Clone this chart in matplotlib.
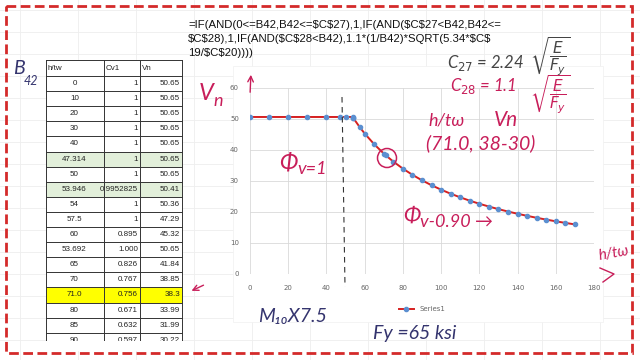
import matplotlib
matplotlib.use('Agg')
import matplotlib.pyplot as plt
from matplotlib.patches import Rectangle, Circle

# table data
tbl_h = ['0', '10', '20', '30', '40', '47.314', '50', '53.946', '54', '57.5', '60',
         '53.692', '65', '70', '71.0', '80', '85', '90']
tbl_cv = ['1', '1', '1', '1', '1', '1', '1', '0.9952825', '1', '1', '0.895',
          '1.000', '0.826', '0.767', '0.756', '0.671', '0.632', '0.597']
tbl_vn = ['50.65', '50.65', '50.65', '50.65', '50.65', '50.65', '50.65', '50.41', '50.36',
          '47.29', '45.32', '50.65', '41.84', '38.85', '38.3', '33.99', '31.99', '30.22']
green_rows = [5, 7]
yellow_rows = [14]

# chart series
ht = [0, 10, 20, 30, 40, 47.314, 50, 53.692, 53.946, 54, 57.5, 60, 65, 70, 71, 75,
      80, 85, 90, 95, 100, 105, 110, 115, 120, 125, 130, 135, 140, 145, 150, 155,
      160, 165, 170]
vn = [50.65, 50.65, 50.65, 50.65, 50.65, 50.65, 50.65, 50.65, 50.41, 50.36, 47.29, 45.32,
      41.84, 38.85, 38.3, 36.26, 33.99, 31.99, 30.22, 28.63, 27.2, 25.9, 24.73, 23.65,
      22.66, 21.76, 20.92, 20.15, 19.43, 18.76, 18.13, 17.55, 17.0, 16.48, 16.0]

formula = ['=IF(AND(0<=B42,B42<=$C$27),1,IF(AND($C$27<B42,B42<=',
           '$C$28),1,IF(AND($C$28<B42),1.1*(1/B42)*SQRT(5.34*$C$',
           '19/$C$20))))']

RED = '#c81e5a'
NAVY = '#34346e'
hand = dict(family=['Lato', 'DejaVu Sans'], style='italic', fontweight='normal')

fig = plt.figure(figsize=(6.4, 3.6), dpi=100)
bg = fig.add_axes([0, 0, 1, 1])
bg.set_xlim(0, 640)
bg.set_ylim(360, 0)
bg.axis('off')

# faint spreadsheet grid
for gx in range(20, 640, 58):
    bg.plot([gx, gx], [0, 360], color='#eeeeee', lw=0.6, zorder=0)
for gy in range(10, 360, 22):
    bg.plot([0, 640], [gy, gy], color='#eeeeee', lw=0.6, zorder=0)

# table
cols = [45.5, 103.5, 140, 182]
top = 60
hdr_h = 16
row_h = 15.1
bg.add_patch(Rectangle((cols[0], top), cols[3] - cols[0], 342 - top, fc='white', ec='none', zorder=1))
for j, name in enumerate(['h/tw', 'Cv1', 'Vn']):
    bg.text(cols[j] + 2, top + hdr_h / 2, name, fontsize=5.8, va='center', ha='left',
            family='Liberation Sans', color='#222222', zorder=3)
for i in range(len(tbl_h)):
    y0 = top + hdr_h + i * row_h
    if i in green_rows:
        bg.add_patch(Rectangle((cols[0], y0), cols[3] - cols[0], row_h, fc='#e2efda', ec='none', zorder=2))
    if i in yellow_rows:
        bg.add_patch(Rectangle((cols[0], y0), cols[3] - cols[0], row_h, fc='#ffff00', ec='none', zorder=2))
    ty = y0 + row_h / 2
    if ty < 342:
        bg.text((cols[0] + cols[1]) / 2, ty, tbl_h[i], fontsize=5.8, ha='center', va='center',
                family='Liberation Sans', color='#222222', zorder=3)
        bg.text(cols[2] - 2, ty, tbl_cv[i], fontsize=5.8, ha='right', va='center',
                family='Liberation Sans', color='#222222', zorder=3)
        bg.text(cols[3] - 2, ty, tbl_vn[i], fontsize=5.8, ha='right', va='center',
                family='Liberation Sans', color='#222222', zorder=3)
for k in range(len(tbl_h) + 1):
    yy = top + hdr_h + k * row_h
    if yy <= 342:
        bg.plot([cols[0], cols[3]], [yy, yy], color='#333333', lw=0.7, zorder=4)
bg.plot([cols[0], cols[3]], [top, top], color='#333333', lw=0.7, zorder=4)
for cx in cols:
    bg.plot([cx, cx], [top, 342], color='#333333', lw=0.7, zorder=4)
bg.add_patch(Rectangle((cols[0] - 1, 341), cols[3] - cols[0] + 2, 10, fc='white', ec='none', zorder=5))

# formula
for k, line in enumerate(formula):
    bg.text(188, 25 + k * 14, line, fontsize=8.2, family='Liberation Sans', color='#111111',
            va='center', ha='left', parse_math=False, zorder=3)

# chart box
bg.add_patch(Rectangle((233, 66), 370, 256, fc='white', ec='#f0f0f0', lw=0.5, zorder=1))

ax = fig.add_axes([250 / 640, 1 - 274 / 360, 344 / 640, 186 / 360], zorder=2)
ax.patch.set_alpha(0)
ax.plot(ht, vn, color='#d62020', lw=1.4, marker='o', markersize=3,
        markerfacecolor='#5b8fd0', markeredgecolor='#5b8fd0', label='Series1', zorder=3)
ax.set_xlim(0, 180)
ax.set_ylim(0, 60)
ax.set_xticks(range(0, 181, 20))
ax.set_yticks(range(0, 61, 10))
ax.grid(True, color='#d9d9d9', lw=0.6)
for s in ax.spines.values():
    s.set_visible(False)
ax.tick_params(length=0, labelsize=5, labelcolor='#666666', pad=8)
ax.legend(loc='upper center', bbox_to_anchor=(0.5, -0.14), frameon=False, fontsize=5,
          labelcolor='#666666', handlelength=2.2)

ov = fig.add_axes([0, 0, 1, 1], zorder=10)
ov.set_xlim(0, 640)
ov.set_ylim(360, 0)
ov.axis('off')
ov.patch.set_alpha(0)

# red dashed border
ov.add_patch(Rectangle((6, 6), 626, 347, fc='none', ec='#d42a2a', lw=2.0, ls=(0, (3.5, 1.6))))

# handwriting
ov.text(19, 68, 'B', fontsize=14, color=NAVY, ha='center', va='center', **hand)
ov.text(31, 81, '42', fontsize=9, color=NAVY, ha='center', va='center', **hand)
ov.text(206, 94, 'V', fontsize=17, color=RED, ha='center', va='center', **hand)
ov.text(218, 101, 'n', fontsize=13, color=RED, ha='center', va='center', **hand)
ov.annotate('', xy=(251, 72), xytext=(250, 95),
            arrowprops=dict(arrowstyle='->', color=RED, lw=1.0))
ov.plot([342, 345], [97, 287], color='#333333', lw=0.8, ls=(0, (5, 4)))
ov.text(288, 163, 'Φ', fontsize=17, color=RED, ha='center', va='center', **hand)
ov.text(312, 169, 'v=1', fontsize=13, color=RED, ha='center', va='center', **hand)
ov.text(447, 120, 'h/tω', fontsize=13, color=RED, ha='center', va='center', **hand)
ov.text(506, 120, 'Vn', fontsize=15, color=RED, ha='center', va='center', **hand)
ov.text(481, 143, '(71.0, 38-30)', fontsize=14, color=RED, ha='center', va='center', **hand)
ov.add_patch(Circle((387, 158), 9.5, fc='none', ec=RED, lw=1.1))
ov.text(412, 216, 'Φ', fontsize=16, color=RED, ha='center', va='center', **hand)
ov.text(456, 222, 'v-0.90 →', fontsize=13, color=RED, ha='center', va='center', **hand)
ov.text(614, 253, 'h/tω', fontsize=11, color=RED, ha='center', va='center', rotation=10, **hand)
ov.plot([600, 614, 603], [268, 274, 282], color=RED, lw=1.0)
ov.annotate('', xy=(189, 292), xytext=(206, 284),
            arrowprops=dict(arrowstyle='->', color=RED, lw=1.0))
ov.text(292, 317, 'M₁₀X7.5', fontsize=14, color=NAVY, ha='center', va='center', **hand)
ov.text(415, 334, 'Fy =65 ksi', fontsize=14, color=NAVY, ha='center', va='center', **hand)
ov.text(447, 63, r'C$_{27}$ = 2.24', fontsize=12, color='#444444', ha='left', va='center', **hand)
ov.text(530, 56, r'$\sqrt{\dfrac{E}{F_y}}$', fontsize=11, color='#444444', ha='left', va='center')
ov.text(450, 86, r'C$_{28}$ = 1.1', fontsize=12, color=RED, ha='left', va='center', **hand)
ov.text(530, 94, r'$\sqrt{\dfrac{E}{F_y}}$', fontsize=11, color=RED, ha='left', va='center')

fig.savefig('out.png', dpi=100)
